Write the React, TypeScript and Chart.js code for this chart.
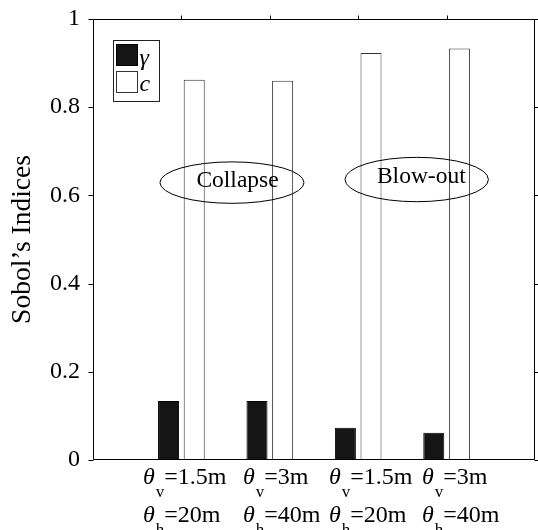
import React, { useEffect, useRef } from "react";
import { Chart, registerables } from "chart.js";

Chart.register(...registerables);

// ---- data ----
const groupPositions = [1, 2, 3, 4];
const gammaValues = [0.134, 0.134, 0.073, 0.062];
const cValues = [0.862, 0.86, 0.923, 0.933];
const seriesNames = ["γ", "c"];
const thetaVLabels = ["=1.5m", "=3m", "=1.5m", "=3m"];
const thetaHLabels = ["=20m", "=40m", "=20m", "=40m"];
const yTickValues = [0, 0.2, 0.4, 0.6, 0.8, 1];
const annotationTexts = ["Collapse", "Blow-out"];

// ---- layout (not data) ----
const labelStartOffsets = [-38.4, -26.8, -29.2, -24.6];
const ellipseCx = [1.572, 3.662];
const ellipseCy = [0.629, 0.636];
const ellipseRx = [0.8145, 0.811];
const ellipseRy = [0.047, 0.0503];
const annTextX = [1.635, 3.714];
const annTextBaseY = [0.618, 0.627];

const SERIF = '"Liberation Serif", "Times New Roman", serif';

const framePlugin = {
  id: "matlabFrame",
  afterDatasetsDraw(chart: any) {
    const { ctx, chartArea } = chart;
    const xs = chart.scales.x;
    const ys = chart.scales.y;
    const L = Math.round(chartArea.left) + 0.5;
    const R = Math.round(chartArea.right) - 0.5;
    const T = Math.round(chartArea.top) + 0.5;
    const B = Math.round(chartArea.bottom) - 0.5;
    ctx.save();
    ctx.strokeStyle = "#000";
    ctx.lineWidth = 1;
    ctx.beginPath();
    ctx.rect(L, T, R - L, B - T);
    ctx.stroke();
    // y ticks (left and right, outward)
    ctx.beginPath();
    for (const v of yTickValues) {
      const y = Math.round(ys.getPixelForValue(v)) + 0.5;
      ctx.moveTo(L - 5, y);
      ctx.lineTo(L, y);
      ctx.moveTo(R, y);
      ctx.lineTo(R + 5, y);
    }
    // x ticks on top (outward)
    for (const v of groupPositions) {
      const x = Math.round(xs.getPixelForValue(v)) + 0.5;
      ctx.moveTo(x, T);
      ctx.lineTo(x, T - 4);
    }
    ctx.stroke();

    // ellipses and annotation texts
    ctx.lineWidth = 1;
    for (let i = 0; i < annotationTexts.length; i++) {
      const cx = xs.getPixelForValue(ellipseCx[i]);
      const cy = ys.getPixelForValue(ellipseCy[i]);
      const rx = xs.getPixelForValue(ellipseCx[i] + ellipseRx[i]) - cx;
      const ry = cy - ys.getPixelForValue(ellipseCy[i] + ellipseRy[i]);
      ctx.beginPath();
      ctx.ellipse(cx, cy, rx, ry, 0, 0, Math.PI * 2);
      ctx.stroke();
      ctx.fillStyle = "#000";
      ctx.font = `23.5px ${SERIF}`;
      ctx.textAlign = "center";
      ctx.textBaseline = "alphabetic";
      ctx.fillText(
        annotationTexts[i],
        xs.getPixelForValue(annTextX[i]),
        ys.getPixelForValue(annTextBaseY[i])
      );
    }

    // x labels
    ctx.textAlign = "left";
    ctx.textBaseline = "alphabetic";
    ctx.fillStyle = "#000";
    const lines = [
      { sub: "v", texts: thetaVLabels, base: chartArea.bottom + 24 },
      { sub: "h", texts: thetaHLabels, base: chartArea.bottom + 62 },
    ];
    groupPositions.forEach((v, i) => {
      const x0 = xs.getPixelForValue(v) + labelStartOffsets[i];
      for (const ln of lines) {
        let x = x0;
        ctx.font = `italic 24px ${SERIF}`;
        ctx.fillText("θ", x, ln.base);
        x += ctx.measureText("θ").width + 1;
        ctx.font = `17px ${SERIF}`;
        ctx.fillText(ln.sub, x, ln.base + 13);
        x += ctx.measureText(ln.sub).width;
        ctx.font = `24px ${SERIF}`;
        ctx.fillText(ln.texts[i], x, ln.base);
      }
    });

    // legend
    const lx = Math.round(chartArea.left) + 20 + 0.5;
    const ly = Math.round(chartArea.top) + 21 + 0.5;
    ctx.fillStyle = "#fff";
    ctx.fillRect(lx, ly, 46, 61);
    ctx.strokeStyle = "#222";
    ctx.strokeRect(lx, ly, 46, 61);
    const dsets = chart.data.datasets;
    const rows = [4, 31];
    const baselines = [24, 50];
    dsets.forEach((ds: any, i: number) => {
      ctx.fillStyle = ds.backgroundColor;
      ctx.fillRect(lx + 3, ly + rows[i], 21, 21);
      ctx.strokeStyle = ds.borderColor;
      ctx.strokeRect(lx + 3, ly + rows[i], 21, 21);
      ctx.fillStyle = "#000";
      ctx.font = `italic 24px ${SERIF}`;
      ctx.fillText(ds.label, lx + 26, ly + baselines[i]);
    });
    ctx.restore();
  },
};

export default function App() {
  const ref = useRef<HTMLCanvasElement | null>(null);
  useEffect(() => {
    if (!ref.current) return;
    const chart = new Chart(ref.current, {
      type: "bar",
      data: {
        datasets: [
          {
            label: seriesNames[0],
            data: groupPositions.map((x, i) => ({ x, y: gammaValues[i] })),
            backgroundColor: "#151515",
            borderColor: "#000",
            borderWidth: 1,
          },
          {
            label: seriesNames[1],
            data: groupPositions.map((x, i) => ({ x, y: cValues[i] })),
            backgroundColor: "#ffffff",
            borderColor: "#333",
            borderWidth: 1,
          },
        ],
      },
      options: {
        animation: false,
        responsive: false,
        maintainAspectRatio: false,
        categoryPercentage: 0.58,
        barPercentage: 0.82,
        layout: { padding: { top: 19, right: 3, left: 0, bottom: 0 } },
        plugins: {
          legend: { display: false },
          tooltip: { enabled: false },
        },
        scales: {
          x: {
            type: "linear",
            min: 0,
            max: 5,
            offset: false,
            grid: { display: false, drawTicks: false },
            border: { display: false },
            ticks: { display: false },
            afterBuildTicks: (scale: any) => {
              scale.ticks = groupPositions.map((v) => ({ value: v }));
            },
            afterFit: (scale: any) => {
              scale.height = 70;
              scale.paddingLeft = 0;
              scale.paddingRight = 0;
            },
          },
          y: {
            min: 0,
            max: 1,
            grid: { display: false, drawTicks: false, tickLength: 0 },
            border: { display: false },
            afterBuildTicks: (scale: any) => {
              scale.ticks = yTickValues.map((v) => ({ value: v }));
            },
            ticks: {
              padding: 13,
              color: "#000",
              font: { family: SERIF, size: 24 },
              callback: (v: any) => String(Math.round(Number(v) * 10) / 10),
            },
            title: {
              display: true,
              text: "Sobol’s Indices",
              color: "#000",
              font: { family: SERIF, size: 27.5 },
              padding: { top: 6, bottom: 0 },
            },
            afterFit: (scale: any) => {
              scale.width = 93;
              scale.paddingTop = 0;
              scale.paddingBottom = 0;
            },
          },
        },
      } as any,
      plugins: [framePlugin],
    });
    return () => chart.destroy();
  }, []);
  return (
    <div style={{ position: "fixed", left: 0, top: 0, width: 538, height: 530, background: "#fff" }}>
      <canvas ref={ref} width={538} height={530} style={{ display: "block" }} />
    </div>
  );
}
